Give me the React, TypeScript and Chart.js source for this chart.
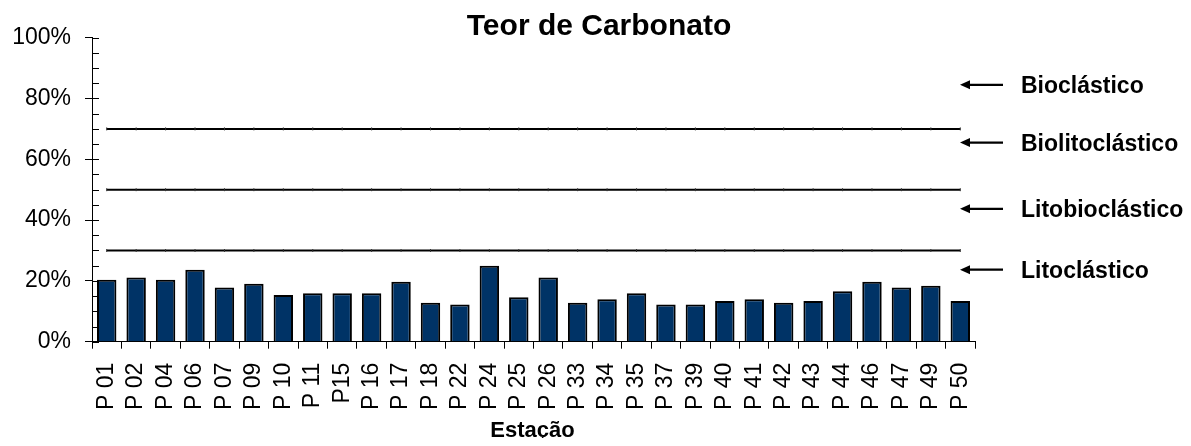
import { useEffect, useRef } from 'react';
import { Chart, registerables } from 'chart.js';

Chart.register(...registerables);

const FONT = '"Liberation Sans", Arial, Helvetica, sans-serif';

const TITLE = 'Teor de Carbonato';
const X_TITLE = 'Estação';

const categories = [
  'P 01', 'P 02', 'P 04', 'P 06', 'P 07', 'P 09', 'P 10', 'P 11', 'P15', 'P 16',
  'P 17', 'P 18', 'P 22', 'P 24', 'P 25', 'P 26', 'P 33', 'P 34', 'P 35', 'P 37',
  'P 39', 'P 40', 'P 41', 'P 42', 'P 43', 'P 44', 'P 46', 'P 47', 'P 49', 'P 50',
];

const carbonate = [
  20.4, 21.1, 20.4, 23.7, 17.8, 19.1, 15.4, 15.9, 15.9, 15.9,
  19.7, 12.8, 12.2, 25.0, 14.6, 21.1, 12.8, 14.0, 15.9, 12.2,
  12.2, 13.4, 14.0, 12.8, 13.4, 16.6, 19.7, 17.8, 18.4, 13.4,
];

const thresholds = [70, 50, 30];

const classNames = ['Bioclástico', 'Biolitoclástico', 'Litobioclástico', 'Litoclástico'];
const classLevels = [84.5, 65.5, 43.7, 23.7];

const yTickValues = [0, 20, 40, 60, 80, 100];

const overlay = {
  id: 'overlay',
  afterDraw(chart: any) {
    const { ctx, chartArea, scales } = chart;
    const y = scales.y;
    ctx.save();
    ctx.strokeStyle = '#000';
    ctx.lineWidth = 1;
    for (let v = 0; v <= 100; v += 5) {
      const py = Math.round(y.getPixelForValue(v)) + 0.5;
      ctx.beginPath();
      ctx.moveTo(chartArea.left, py);
      ctx.lineTo(chartArea.left + 7, py);
      ctx.stroke();
    }
    ctx.fillStyle = '#000';
    ctx.font = `bold 30px ${FONT}`;
    ctx.textAlign = 'center';
    ctx.textBaseline = 'alphabetic';
    ctx.fillText(TITLE, 591, 27);

    ctx.font = `bold 22px ${FONT}`;
    ctx.fillText(X_TITLE, (chartArea.left + chartArea.right) / 2 - 1, 429);

    ctx.font = `bold 23px ${FONT}`;
    ctx.textAlign = 'left';
    classLevels.forEach((lvl, i) => {
      const py = y.getPixelForValue(lvl);
      const tip = chartArea.right - 15;
      const tail = chartArea.right + 28;
      ctx.lineWidth = 2.2;
      ctx.beginPath();
      ctx.moveTo(tip + 6, py);
      ctx.lineTo(tail, py);
      ctx.stroke();
      ctx.beginPath();
      ctx.moveTo(tip, py);
      ctx.lineTo(tip + 10, py - 4.5);
      ctx.lineTo(tip + 10, py + 4.5);
      ctx.closePath();
      ctx.fill();
      ctx.fillText(classNames[i], chartArea.right + 46, py + 8);
    });
    ctx.restore();
  },
};

export default function App() {
  const ref = useRef<HTMLCanvasElement>(null);

  useEffect(() => {
    if (!ref.current) return;
    const lineSets = thresholds.map((t) => ({
      type: 'line' as const,
      data: categories.map(() => t),
      borderColor: '#000',
      borderWidth: 2,
      pointStyle: 'line',
      pointRadius: 1.5,
      pointRotation: 90,
      pointBorderColor: '#333',
      pointBorderWidth: 1,
      pointBackgroundColor: '#000',
      fill: false,
      order: 1,
    }));
    const chart = new Chart(ref.current, {
      type: 'bar',
      data: {
        labels: categories,
        datasets: [
          {
            type: 'bar',
            data: carbonate,
            backgroundColor: '#003366',
            borderColor: '#000',
            borderWidth: 2,
            barPercentage: 0.66,
            categoryPercentage: 1,
            order: 2,
          } as any,
          ...(lineSets as any[]),
        ],
      },
      options: {
        responsive: false,
        animation: false,
        layout: { padding: { top: 29.7, right: 208, left: 0, bottom: 0 } },
        plugins: {
          legend: { display: false },
          tooltip: { enabled: false },
          title: { display: false },
        },
        scales: {
          x: {
            type: 'category',
            offset: true,
            grid: {
              display: true,
              drawOnChartArea: false,
              drawTicks: true,
              tickLength: 7,
              color: '#000',
              offset: true,
            },
            border: { display: true, color: '#000', width: 1 },
            ticks: {
              maxRotation: 90,
              minRotation: 90,
              padding: 14,
              autoSkip: false,
              color: '#000',
              font: { family: FONT, size: 23 },
            },
            afterFit(s: any) {
              s.height = 104.3;
            },
          },
          y: {
            min: 0,
            max: 100,
            afterBuildTicks(s: any) {
              s.ticks = yTickValues.map((v) => ({ value: v }));
            },
            ticks: {
              callback: (v: any) => `${v}%`,
              padding: 14,
              color: '#000',
              font: { family: FONT, size: 23 },
            },
            grid: { drawOnChartArea: false, tickLength: 7, color: '#000' },
            border: { display: true, color: '#000', width: 1 },
            afterFit(s: any) {
              s.width = 84;
            },
          },
        },
      },
      plugins: [overlay],
    });
    return () => chart.destroy();
  }, []);

  return (
    <div style={{ width: 1175, height: 438, marginBottom: -8 }}>
      <canvas ref={ref} width={1175} height={438} style={{ display: 'block' }} />
    </div>
  );
}
